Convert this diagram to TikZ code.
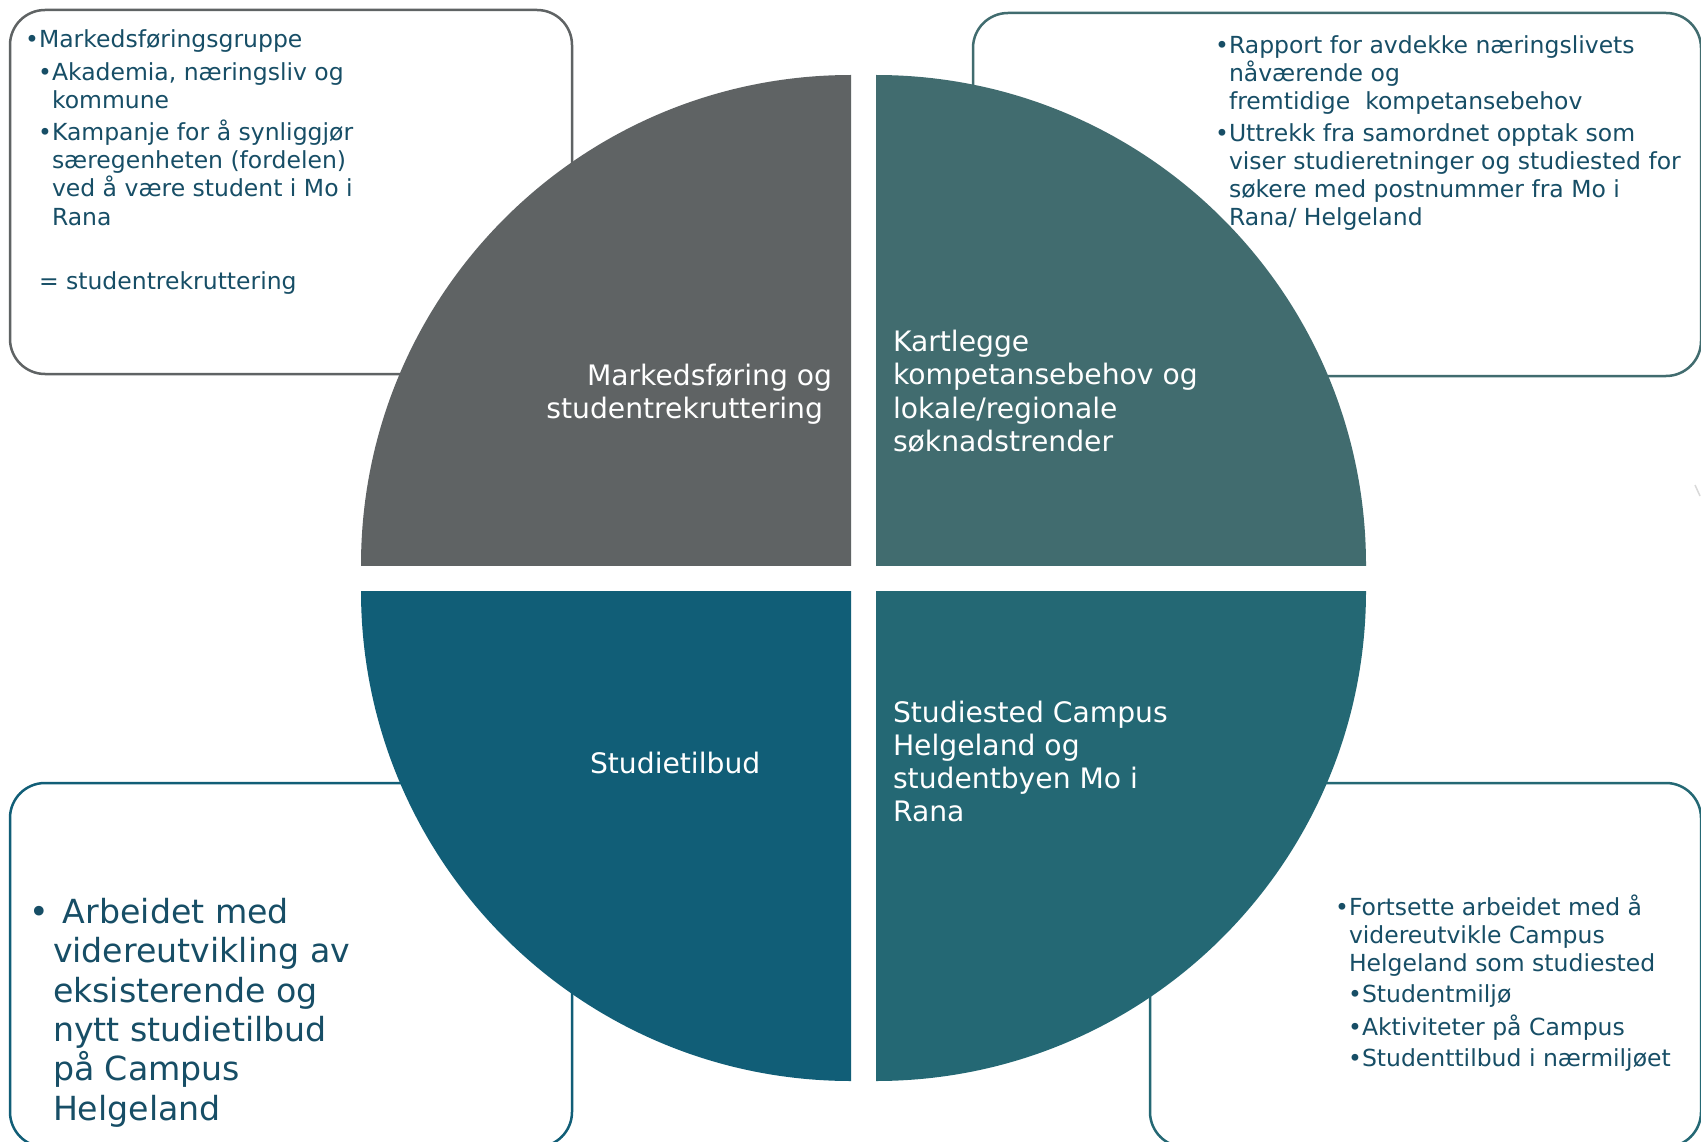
\documentclass[tikz,border=0pt]{standalone}
\usepackage{fontspec}
\setmainfont{DejaVu Sans}
\definecolor{qgray}{HTML}{5F6364}
\definecolor{qteal}{HTML}{416C6F}
\definecolor{qblue}{HTML}{115E77}
\definecolor{qcyan}{HTML}{246874}
\definecolor{boxtext}{HTML}{174E66}
\tikzset{
  frame/.style={line width=2.5pt, rounded corners=35pt, fill=white},
  txt/.style={inner sep=0pt, outer sep=0pt, anchor=base west, text=boxtext, font=\fontsize{23.5}{28}\selectfont},
  bigtxt/.style={inner sep=0pt, outer sep=0pt, anchor=base west, text=boxtext, font=\fontsize{33.2}{39}\selectfont},
  qtxt/.style={inner sep=0pt, outer sep=0pt, anchor=base west, text=white, font=\fontsize{28.2}{33.5}\selectfont},
  qtxtr/.style={qtxt, anchor=base east},
}
\begin{document}
\begin{tikzpicture}[x=1pt,y=-1pt]
\useasboundingbox (0,0) rectangle (1701,1142);
\fill[white] (0,0) rectangle (1701,1142);
% surrounding boxes
\draw[frame, draw=qgray] (10,10) rectangle (572,374);
\draw[frame, draw=qteal] (973,13) rectangle (1701,376);
\draw[frame, draw=qblue] (10,783) rectangle (572,1147);
\draw[frame, draw=qcyan] (1150,783) rectangle (1701,1147);
% faint mark at right edge
\draw[gray!30, line width=1.5pt] (1695,485) -- (1700,496);
% quadrants
\begin{scope}
  \clip (361,75) rectangle (851,565);
  \fill[qgray] (851,565) circle[radius=490pt];
\end{scope}
\begin{scope}
  \clip (876,75) rectangle (1366,565);
  \fill[qteal] (876,565) circle[radius=490pt];
\end{scope}
\begin{scope}
  \clip (361,591) rectangle (851,1081);
  \fill[qblue] (851,591) circle[radius=490pt];
\end{scope}
\begin{scope}
  \clip (876,591) rectangle (1366,1081);
  \fill[qcyan] (876,591) circle[radius=490pt];
\end{scope}
% quadrant labels
\node[qtxtr] (q1a) at (832,385) {Markedsføring og};
\node[qtxtr] (q1b) at (823,418.5) {studentrekruttering};
\node[qtxt] (q2a) at (893,351) {Kartlegge};
\node[qtxt] (q2b) at (893,384.5) {kompetansebehov og};
\node[qtxt] (q2c) at (893,418) {lokale/regionale};
\node[qtxt] (q2d) at (893,451.5) {søknadstrender};
\node[qtxt] (q3a) at (590,773) {Studietilbud};
\node[qtxt] (q4a) at (893,722) {Studiested Campus};
\node[qtxt] (q4b) at (893,755) {Helgeland og};
\node[qtxt] (q4c) at (893,788) {studentbyen Mo i};
\node[qtxt] (q4d) at (893,821.5) {Rana};
% top-left box text
\node[txt] (a1) at (39,48) {\llap{•}Markedsføringsgruppe};
\node[txt] (a2) at (52,80.5) {\llap{•}Akademia, næringsliv og};
\node[txt] (a3) at (52,108.5) {kommune};
\node[txt] (a4) at (52,140.5) {\llap{•}Kampanje for å synliggjør};
\node[txt] (a5) at (52,169) {særegenheten (fordelen)};
\node[txt] (a6) at (52,197) {ved å være student i Mo i};
\node[txt] (a7) at (52,225.5) {Rana};
\node[txt] (a8) at (39,289.5) {= studentrekruttering};
% top-right box text
\node[txt] (b1) at (1229,54) {\llap{•}Rapport for avdekke næringslivets};
\node[txt] (b2) at (1229,82) {nåværende og};
\node[txt] (b3) at (1229,110) {fremtidige~ kompetansebehov};
\node[txt] (b4) at (1229,142) {\llap{•}Uttrekk fra samordnet opptak som};
\node[txt] (b5) at (1229,170) {viser studieretninger og studiested for};
\node[txt] (b6) at (1229,198) {søkere med postnummer fra Mo i};
\node[txt] (b7) at (1229,226) {Rana/ Helgeland};
% bottom-left box text
\node[bigtxt] (c1) at (63,923.5) {\llap{•\hspace{14pt}}Arbeidet med};
\node[bigtxt] (c2) at (53,962.8) {videreutvikling av};
\node[bigtxt] (c3) at (53,1002.1) {eksisterende og};
\node[bigtxt] (c4) at (53,1041.4) {nytt studietilbud};
\node[bigtxt] (c5) at (53,1080.7) {på Campus};
\node[bigtxt] (c6) at (53,1120) {Helgeland};
% bottom-right box text
\node[txt] (d1) at (1349,915) {\llap{•}Fortsette arbeidet med å};
\node[txt] (d2) at (1349,943) {videreutvikle Campus};
\node[txt] (d3) at (1349,971) {Helgeland som studiested};
\node[txt] (d4) at (1362,1002) {\llap{•}Studentmiljø};
\node[txt] (d5) at (1362,1035) {\llap{•}Aktiviteter på Campus};
\node[txt] (d6) at (1362,1066.5) {\llap{•}Studenttilbud i nærmiljøet};
\end{tikzpicture}
\end{document}
